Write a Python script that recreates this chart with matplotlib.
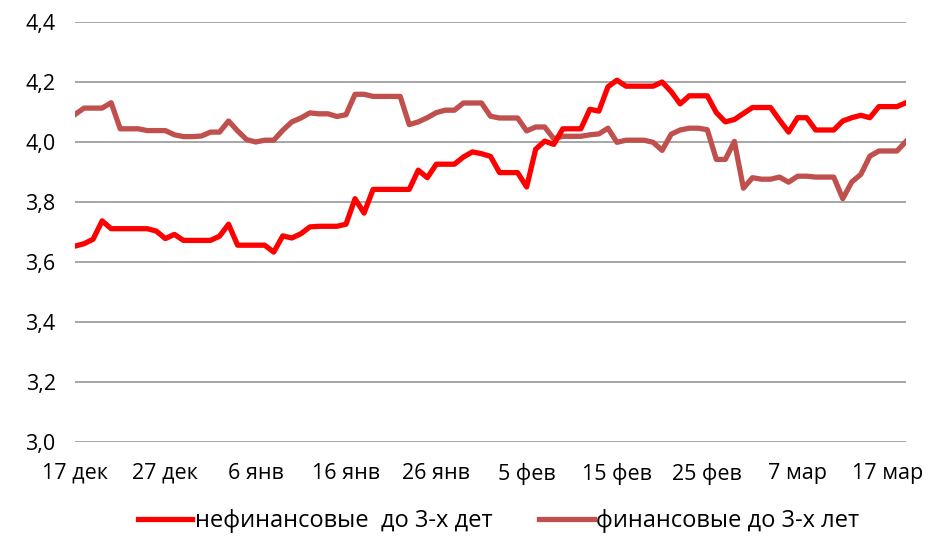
import matplotlib
matplotlib.use("Agg")
import matplotlib.pyplot as plt

# дни от 17 дек
days = list(range(93))

nonfin = [3.653, 3.661, 3.676, 3.737, 3.711, 3.711, 3.711, 3.711, 3.711, 3.703,
          3.678, 3.692, 3.672, 3.672, 3.672, 3.672, 3.686, 3.726, 3.656, 3.656,
          3.656, 3.656, 3.633, 3.687, 3.680, 3.694, 3.717, 3.719, 3.719, 3.719,
          3.726, 3.811, 3.763, 3.842, 3.842, 3.842, 3.842, 3.842, 3.906, 3.881,
          3.926, 3.926, 3.926, 3.950, 3.967, 3.961, 3.952, 3.898, 3.898, 3.898,
          3.850, 3.976, 4.003, 3.992, 4.044, 4.044, 4.044, 4.109, 4.103, 4.184,
          4.206, 4.186, 4.186, 4.186, 4.186, 4.200, 4.168, 4.127, 4.154, 4.154,
          4.154, 4.098, 4.067, 4.075, 4.095, 4.115, 4.115, 4.115, 4.073, 4.033,
          4.081, 4.081, 4.040, 4.040, 4.040, 4.070, 4.081, 4.089, 4.081, 4.118,
          4.118, 4.118, 4.131]

fin = [4.092, 4.113, 4.113, 4.113, 4.131, 4.044, 4.044, 4.044, 4.038, 4.038,
       4.038, 4.024, 4.018, 4.018, 4.020, 4.033, 4.033, 4.070, 4.037, 4.008,
       4.000, 4.006, 4.006, 4.039, 4.067, 4.080, 4.097, 4.094, 4.094, 4.085,
       4.091, 4.159, 4.159, 4.152, 4.152, 4.152, 4.152, 4.058, 4.067, 4.081,
       4.098, 4.106, 4.106, 4.130, 4.130, 4.130, 4.086, 4.080, 4.080, 4.080,
       4.037, 4.050, 4.050, 4.011, 4.019, 4.019, 4.019, 4.024, 4.027, 4.046,
       3.999, 4.006, 4.006, 4.006, 3.999, 3.972, 4.026, 4.040, 4.046, 4.046,
       4.041, 3.942, 3.942, 4.002, 3.846, 3.881, 3.876, 3.876, 3.883, 3.866,
       3.886, 3.886, 3.883, 3.883, 3.883, 3.811, 3.867, 3.892, 3.953, 3.970,
       3.970, 3.970, 4.002]

tick_days = [0, 10, 20, 30, 40, 50, 60, 70, 80, 90]
tick_labels = ["17 дек", "27 дек", "6 янв", "16 янв", "26 янв",
               "5 фев", "15 фев", "25 фев", "7 мар", "17 мар"]
y_ticks = [3.0, 3.2, 3.4, 3.6, 3.8, 4.0, 4.2, 4.4]
y_labels = ["3,0", "3,2", "3,4", "3,6", "3,8", "4,0", "4,2", "4,4"]

plt.rcParams['font.family'] = ['Open Sans', 'DejaVu Sans']

fig = plt.figure(figsize=(9.32, 5.46), dpi=100)
ax = fig.add_axes([0.0805, 0.1905, 0.8916, 0.7692])

ax.plot(days, nonfin, color='#ff0000', lw=3.8, solid_joinstyle='round',
        label='нефинансовые  до 3-х дет', zorder=3)
ax.plot(days, fin, color='#c0504d', lw=3.8, solid_joinstyle='round',
        label='финансовые до 3-х лет', zorder=2)

ax.set_xlim(0, 92)
ax.set_ylim(3.0, 4.4)
ax.set_yticks(y_ticks)
ax.set_yticklabels(y_labels)
ax.set_xticks(tick_days)
ax.set_xticklabels(tick_labels)
ax.tick_params(axis='both', length=0, labelsize=15.5, colors='#000000')
ax.tick_params(axis='y', pad=14)
ax.tick_params(axis='x', pad=15)

ax.grid(axis='y', color='#a6a6a6', lw=1.4)
ax.set_axisbelow(True)
for s in ax.spines.values():
    s.set_visible(False)

fig.legend(loc='center', bbox_to_anchor=(0.535, 0.045), ncol=2, frameon=False,
           fontsize=17, handlelength=2.3, handletextpad=0.1,
           columnspacing=2.0)

fig.savefig('out.png', dpi=100)
